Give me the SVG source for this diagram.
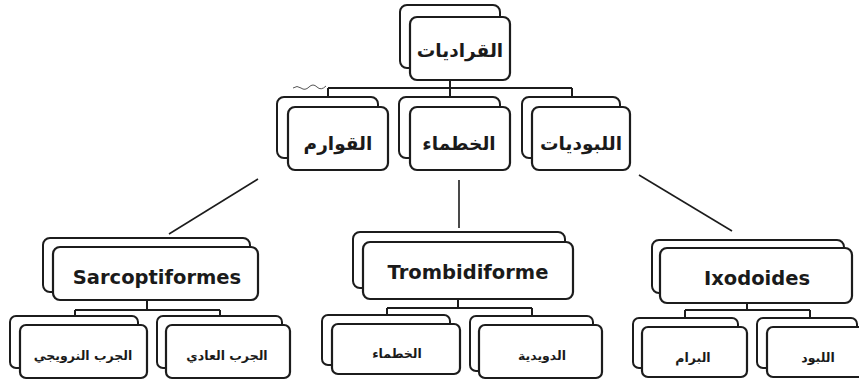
<svg xmlns="http://www.w3.org/2000/svg" width="859" height="385" viewBox="0 0 859 385">
<style>
.bk{fill:#fff;stroke:#1c1c1c;stroke-width:2}
.fr{fill:#fff;stroke:#1c1c1c;stroke-width:2.2}
.ar{font-family:"DejaVu Sans",sans-serif;font-weight:bold;fill:#1a1a1a;text-anchor:middle}
.a1{font-size:18.5px}
.a2{font-size:12.5px}
.en{font-family:"DejaVu Sans","Liberation Sans",sans-serif;font-weight:bold;font-size:19.5px;fill:#1a1a1a;text-anchor:middle}
.ln{stroke:#1c1c1c;stroke-width:1.6;fill:none}
.tr{stroke:#1c1c1c;stroke-width:2;fill:none}
</style>
<rect width="859" height="385" fill="#fff"/>
<g id="connectors">
<path class="tr" d="M450 80V88M328 88H572M328 88V97M450 88V97M572 88V97"/>
<path d="M293 88q4-3 8 0t8-1 8 0 9-1" stroke="#555" stroke-width="1" fill="none"/>
<line class="ln" x1="258" y1="179" x2="169" y2="234"/>
<line class="ln" x1="459" y1="180" x2="459" y2="228"/>
<line class="ln" x1="639" y1="175" x2="732" y2="231"/>
<path class="tr" d="M147 300V310M75 310H220M75 310V316M220 310V316"/>
<path class="tr" d="M458 299V308M387 308H532M387 308V315M532 308V316"/>
<path class="tr" d="M747 303V310M685 310H810M685 310V318M810 310V318"/>
</g>
<g id="n-root">
<rect class="bk" x="400" y="5" width="100" height="63" rx="7"/>
<rect class="fr" x="410" y="17" width="100" height="63" rx="7"/>
<text class="ar a1" x="460" y="57">القراديات</text>
</g>
<g id="n-qawarim">
<rect class="bk" x="277" y="97" width="101" height="61" rx="7"/>
<rect class="fr" x="288" y="107" width="100" height="63" rx="7"/>
<text class="ar a1" x="338" y="150">القوارم</text>
</g>
<g id="n-khatmaa">
<rect class="bk" x="399" y="97" width="101" height="61" rx="7"/>
<rect class="fr" x="410" y="107" width="100" height="63" rx="7"/>
<text class="ar a1" x="459" y="150">الخطماء</text>
</g>
<g id="n-labboudiyat">
<rect class="bk" x="522" y="97" width="98" height="61" rx="7"/>
<rect class="fr" x="532" y="107" width="98" height="63" rx="7"/>
<text class="ar a1" x="581" y="150">اللبوديات</text>
</g>
<g id="n-sarcopt">
<rect class="bk" x="43" y="238" width="207" height="54" rx="7"/>
<rect class="fr" x="53" y="247" width="205" height="53" rx="7"/>
<text class="en" x="157" y="284">Sarcoptiformes</text>
</g>
<g id="n-trombi">
<rect class="bk" x="353" y="232" width="212" height="56" rx="7"/>
<rect class="fr" x="363" y="242" width="210" height="57" rx="7"/>
<text class="en" x="468" y="279">Trombidiforme</text>
</g>
<g id="n-ixod">
<rect class="bk" x="652" y="240" width="192" height="53" rx="7"/>
<rect class="fr" x="660" y="248" width="192" height="55" rx="7"/>
<text class="en" x="757" y="285">Ixodoides</text>
</g>
<g id="n-norwegian">
<rect class="bk" x="10" y="316" width="128" height="52" rx="6"/>
<rect class="fr" x="20" y="325" width="127" height="53" rx="6"/>
<text class="ar a2" x="83" y="360">الجرب النرويجي</text>
</g>
<g id="n-common">
<rect class="bk" x="157" y="316" width="125" height="52" rx="6"/>
<rect class="fr" x="166" y="325" width="124" height="53" rx="6"/>
<text class="ar a2" x="227" y="360">الجرب العادي</text>
</g>
<g id="n-khatmaa2">
<rect class="bk" x="322" y="315" width="128" height="50" rx="6"/>
<rect class="fr" x="332" y="324" width="128" height="50" rx="6"/>
<text class="ar a2" x="397" y="358">الخطماء</text>
</g>
<g id="n-duwaydiya">
<rect class="bk" x="470" y="316" width="123" height="55" rx="6"/>
<rect class="fr" x="479" y="325" width="123" height="53" rx="6"/>
<text class="ar a2" x="542" y="360">الدويدية</text>
</g>
<g id="n-buram">
<rect class="bk" x="633" y="318" width="105" height="50" rx="6"/>
<rect class="fr" x="642" y="327" width="105" height="50" rx="6"/>
<text class="ar a2" x="693" y="362">البرام</text>
</g>
<g id="n-labboud">
<rect class="bk" x="757" y="318" width="100" height="50" rx="6"/>
<rect class="fr" x="767" y="327" width="100" height="50" rx="6"/>
<text class="ar a2" x="818" y="362">اللبود</text>
</g>
</svg>
